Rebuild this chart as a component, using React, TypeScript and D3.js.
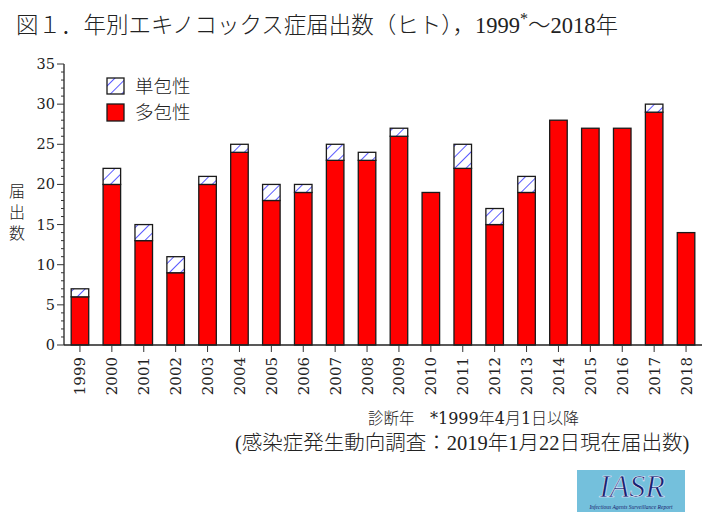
import React from "react";
import * as d3 from "d3";

const years = ["1999","2000","2001","2002","2003","2004","2005","2006","2007","2008","2009","2010","2011","2012","2013","2014","2015","2016","2017","2018"];
const multi = [6,20,13,9,20,24,18,19,23,23,26,19,22,15,19,28,27,27,29,14];
const single = [1,2,2,2,1,1,2,1,2,1,1,0,3,2,2,0,0,0,1,0];
const yTicks = [0,5,10,15,20,25,30,35];
const legendLabels = ["単包性","多包性"];

const W = 720, H = 515;
const left = 64, right = 702, top = 64, bottom = 345;
const serif = "'DejaVu Serif', 'Liberation Serif', 'Noto Sans CJK JP', serif";
const jp = "'Liberation Serif', 'Noto Sans CJK JP', serif";
const jpWide = "'DejaVu Serif', 'Noto Sans CJK JP', serif";

export default function App() {
  const x = d3.scaleBand<string>().domain(years).range([left, right]).paddingInner(0.45).paddingOuter(0.225);
  const y = d3.scaleLinear().domain([0, 35]).range([bottom, top]);
  const minor = d3.range(0, 36);
  const bw = x.bandwidth();
  return (
    <svg width={W} height={H} style={{ position: "absolute", left: 0, top: 0, background: "#fff" }}>
      <defs>
        <pattern id="hatch" patternUnits="userSpaceOnUse" width="8" height="8" patternTransform="rotate(45)">
          <rect width="8" height="8" fill="#fff" />
          <line x1="0" y1="0" x2="0" y2="8" stroke="#5a5aff" strokeWidth="2" />
        </pattern>
      </defs>
      <text x={16} y={33} fontFamily={jp} fontSize={22.5} fontWeight={300} fill="#222">
        図１．年別エキノコックス症届出数（ヒト），1999<tspan dy={-9} fontSize={16}>*</tspan><tspan dy={9}>～2018年</tspan>
      </text>
      {/* bars */}
      {years.map((yr, i) => (
        <g key={yr}>
          <rect x={x(yr)} y={y(multi[i])} width={bw} height={y(0) - y(multi[i])} fill="#ff0000" stroke="#1a1a1a" strokeWidth={1.3} />
          {single[i] > 0 && (
            <rect x={x(yr)} y={y(multi[i] + single[i])} width={bw} height={y(multi[i]) - y(multi[i] + single[i])} fill="url(#hatch)" stroke="#1a1a1a" strokeWidth={1.3} />
          )}
        </g>
      ))}
      {/* y axis */}
      <line x1={left} x2={left} y1={top} y2={bottom} stroke="#222" strokeWidth={1.3} />
      {minor.map((v) => (
        <line key={v} x1={left - (v % 5 === 0 ? 7 : 3)} x2={left} y1={y(v)} y2={y(v)} stroke="#333" strokeWidth={1} />
      ))}
      {yTicks.map((v) => (
        <text key={v} x={left - 9} y={y(v) + 5} textAnchor="end" fontFamily={serif} fontSize={14.5} fill="#222">{v}</text>
      ))}
      {/* x axis */}
      <line x1={left} x2={right} y1={bottom} y2={bottom} stroke="#222" strokeWidth={1.3} />
      {years.map((yr) => {
        const cx = (x(yr) as number) + bw / 2;
        return (
          <g key={yr}>
            <line x1={cx} x2={cx} y1={bottom} y2={bottom + 7} stroke="#333" strokeWidth={1} />
            <text transform={`translate(${cx + 5.5},${bottom + 12}) rotate(-90)`} textAnchor="end" fontFamily={serif} fontSize={15} fill="#222">{yr}</text>
          </g>
        );
      })}
      {/* y label */}
      {["届","出","数"].map((c, i) => (
        <text key={c} x={17} y={197 + i * 21} textAnchor="middle" fontFamily={jp} fontSize={16} fontWeight={300} fill="#222">{c}</text>
      ))}
      {/* legend */}
      <rect x={107} y={78} width={17} height={16} fill="url(#hatch)" stroke="#1a1a1a" strokeWidth={1.3} />
      <rect x={107} y={104} width={17} height={17} fill="#ff0000" stroke="#1a1a1a" strokeWidth={1.3} />
      <text x={135} y={93} fontFamily={jp} fontSize={18.5} fontWeight={300} fill="#222">{legendLabels[0]}</text>
      <text x={135} y={119} fontFamily={jp} fontSize={18.5} fontWeight={300} fill="#222">{legendLabels[1]}</text>
      {/* footers */}
      <text x={368} y={424} fontFamily={jp} fontSize={15.5} fontWeight={300} fill="#222">診断年</text>
      <text x={430} y={424} fontFamily={jpWide} fontSize={16} fontWeight={300} fill="#222">*1999年4月1日以降</text>
      <text x={235} y={450} fontFamily={jp} fontSize={20.5} fontWeight={300} fill="#222">(感染症発生動向調査：2019年1月22日現在届出数)</text>
      {/* logo */}
      <rect x={577} y={470} width={108} height={42} fill="#74c0dc" />
      <text x={632} y={497} textAnchor="middle" fontFamily="'Liberation Serif', serif" fontStyle="italic" fontSize={32} fill="#17206e" stroke="#e8f0ff" strokeWidth={0.6}>IASR</text>
      <text x={631} y={509} textAnchor="middle" fontFamily="'Liberation Serif', serif" fontStyle="italic" fontSize={5.5} fill="#17206e">Infectious Agents Surveillance Report</text>
    </svg>
  );
}
